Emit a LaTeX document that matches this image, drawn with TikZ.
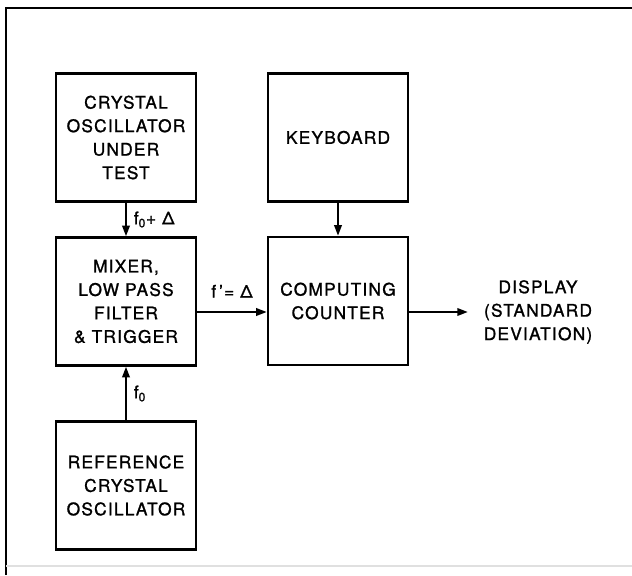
\documentclass[tikz,border=0pt]{standalone}
\usepackage{fontspec}
\setmainfont{TeX Gyre Heros}[LetterSpace=7, FakeBold=1.2]
\usetikzlibrary{arrows.meta}

\begin{document}
\begin{tikzpicture}[x=0.75pt, y=-0.75pt, >={Triangle[length=8pt,width=5.5pt]}]
  \tikzset{
    blk/.style={draw, line width=1.7pt, minimum width=105pt, minimum height=96pt,
      align=center, font=\fontsize{13pt}{17.6pt}\selectfont, inner sep=0pt},
    lbl/.style={font=\fontsize{13pt}{15pt}\selectfont, inner sep=1pt},
    link/.style={->, line width=1.7pt}
  }
  \useasboundingbox (0,0) rectangle (632,575);
  \fill[white] (0,0) rectangle (632,575);

  % frame
  \draw[line width=1.8pt] (6,575) -- (6,8) -- (632,8);
  \draw[black!12, line width=1pt] (6,566) -- (632,566);

  \node[blk] (osc) at (126,137.5) {CRYSTAL\\OSCILLATOR\\UNDER\\TEST};
  \node[blk] (kbd) at (338,137.5) {KEYBOARD};
  \node[blk] (mixer) at (126,301.5) {MIXER,\\LOW PASS\\FILTER\\\& TRIGGER};
  \node[blk] (counter) at (338,301) {COMPUTING\\COUNTER};
  \node[blk] (refosc) at (126,485.5) {REFERENCE\\CRYSTAL\\OSCILLATOR};
  \node[align=center, font=\fontsize{13pt}{17.6pt}\selectfont, inner sep=0pt]
    (display) at (538,312) {DISPLAY\\(STANDARD\\DEVIATION)};

  \coordinate (dispin) at (468,312);

  \draw[link] (osc) -- (mixer) node[lbl, midway, right=4pt] {f\textsubscript{0}+ Δ};
  \draw[link] (kbd) -- (counter);
  \draw[link] (refosc) -- (mixer) node[lbl, midway, right=4pt] {f\textsubscript{0}};
  \draw[link] (mixer.east |- 0,312) -- (counter.west |- 0,312)
    node[lbl, midway, above=9pt] {f\,'= Δ};
  \draw[link] (counter.east |- dispin) -- (dispin);

\end{tikzpicture}
\end{document}
